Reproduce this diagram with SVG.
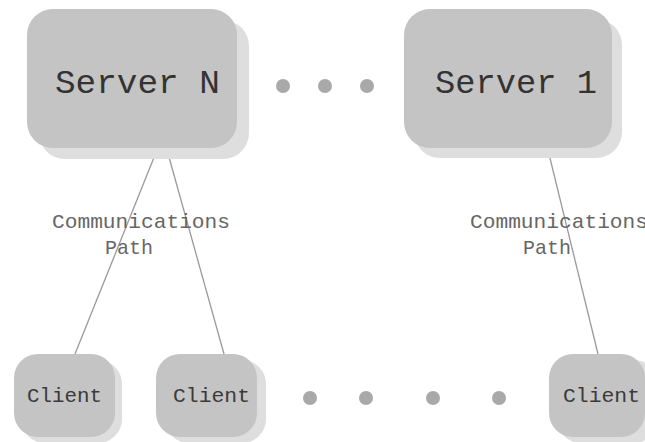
<svg xmlns="http://www.w3.org/2000/svg" width="645" height="442" viewBox="0 0 645 442">
  <defs>
    <style>
      .box { fill: #c4c4c4; }
      .shadow { fill: #dedede; }
      .dot { fill: #a9a9a9; }
      .link { stroke: #9a9a9a; stroke-width: 1.3; fill: none; }
      .srv { font-family: "Liberation Mono", "Courier New", monospace; font-size: 34px; fill: #333; }
      .cli { font-family: "Liberation Mono", "Courier New", monospace; font-size: 21px; fill: #3a3a3a; }
      .lbl { font-family: "Liberation Mono", "Courier New", monospace; font-size: 21px; fill: #666; }
    </style>
  </defs>
  <rect width="645" height="442" fill="#fff"/>

  <!-- connectors -->
  <g id="connectors">
    <line class="link" x1="157" y1="150" x2="75" y2="354"/>
    <line class="link" x1="167" y1="150" x2="224" y2="354"/>
    <line class="link" x1="548" y1="150" x2="598" y2="354"/>
    <text class="lbl" x="52" y="228" textLength="178" lengthAdjust="spacingAndGlyphs">Communications</text>
    <text class="lbl" x="105" y="254" textLength="48" lengthAdjust="spacingAndGlyphs">Path</text>
    <text class="lbl" x="470" y="228" textLength="178" lengthAdjust="spacingAndGlyphs">Communications</text>
    <text class="lbl" x="523" y="254" textLength="48" lengthAdjust="spacingAndGlyphs">Path</text>
  </g>

  <g id="server-n">
    <rect class="shadow" x="39" y="20" width="210" height="139" rx="26"/>
    <rect class="box" x="27" y="9" width="210" height="139" rx="26"/>
    <text class="srv" x="55" y="93" textLength="165" lengthAdjust="spacingAndGlyphs">Server N</text>
  </g>

  <g id="server-1">
    <rect class="shadow" x="414" y="19" width="208" height="139" rx="26"/>
    <rect class="box" x="404" y="9" width="208" height="139" rx="26"/>
    <text class="srv" x="435" y="93" textLength="162" lengthAdjust="spacingAndGlyphs">Server 1</text>
  </g>

  <g id="server-ellipsis">
    <circle class="dot" cx="283" cy="86" r="7"/>
    <circle class="dot" cx="325" cy="86" r="7"/>
    <circle class="dot" cx="367" cy="86" r="7"/>
  </g>

  <g id="client-1">
    <rect class="shadow" x="21" y="360" width="101" height="83" rx="24"/>
    <rect class="box" x="14" y="354" width="101" height="83" rx="24"/>
    <text class="cli" x="27" y="402" textLength="75" lengthAdjust="spacingAndGlyphs">Client</text>
  </g>

  <g id="client-2">
    <rect class="shadow" x="165" y="360" width="101" height="83" rx="24"/>
    <rect class="box" x="156" y="354" width="101" height="83" rx="24"/>
    <text class="cli" x="173" y="402" textLength="77" lengthAdjust="spacingAndGlyphs">Client</text>
  </g>

  <g id="client-3">
    <rect class="shadow" x="557" y="360" width="101" height="83" rx="24"/>
    <rect class="box" x="549" y="354" width="96" height="83" rx="24"/>
    <text class="cli" x="563" y="402" textLength="77" lengthAdjust="spacingAndGlyphs">Client</text>
  </g>

  <g id="client-ellipsis">
    <circle class="dot" cx="310" cy="398" r="7"/>
    <circle class="dot" cx="366" cy="398" r="7"/>
    <circle class="dot" cx="433" cy="398" r="7"/>
    <circle class="dot" cx="499" cy="398" r="7"/>
  </g>
</svg>
